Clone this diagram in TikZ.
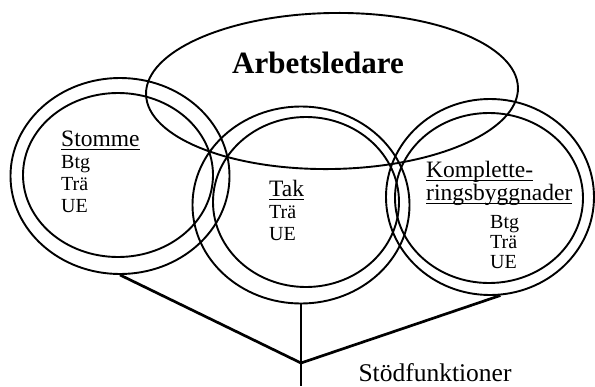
\documentclass[tikz,border=0pt]{standalone}
\usepackage{fontspec}
\setmainfont{Liberation Serif}
\usetikzlibrary{shapes.geometric}
\newcommand{\ulword}[1]{\setbox0\hbox{#1}\rlap{\rule[-3.5pt]{\wd0}{1.4pt}}\box0}
\newcommand{\titlefont}{\fontsize{23.5}{22}\selectfont}
\begin{document}
\begin{tikzpicture}[x=1pt,y=-1pt,
  ring/.style={ellipse,draw,line width=1.9pt,inner sep=0pt},
  bar/.style={line width=2.7pt},
  listtext/.style={anchor=north west,align=left,inner sep=0pt,font=\fontsize{20}{22}\selectfont}]
\useasboundingbox (0,0) rectangle (595,386);
\node[ring,minimum width=372pt,minimum height=156pt,rotate=1] (arb) at (332,91) {};
\node[ring,minimum width=219pt,minimum height=196pt] (stomme) at (120,176) {};
\node[ring,minimum width=190pt,minimum height=164pt] (stommein) at (118,175) {};
\node[ring,minimum width=217pt,minimum height=197pt] (tak) at (301,205) {};
\node[ring,minimum width=186pt,minimum height=170pt] (takin) at (306,202) {};
\node[ring,minimum width=208pt,minimum height=196pt] (komp) at (490,197) {};
\node[ring,minimum width=188pt,minimum height=170pt] (kompin) at (489,198) {};
\node[anchor=base,font=\bfseries\fontsize{31}{31}\selectfont] (arbtext) at (318,73) {Arbetsledare};
\node[listtext] (stommetext) at (61,131) {{\titlefont\ulword{Stomme}}\\Btg\\Trä\\UE};
\node[listtext] (taktext) at (269,180) {{\titlefont\ulword{Tak}}\\Trä\\UE};
\node[listtext,font=\fontsize{23.5}{23}\selectfont] (komptitle) at (426,161) {\ulword{Komplette-}\\\ulword{ringsbyggnader}};
\node[listtext,font=\fontsize{20}{20}\selectfont] (kompitems) at (490,215) {Btg\\Trä\\UE};
\node[anchor=base west,font=\fontsize{25.5}{26}\selectfont] (stod) at (355,381) {Stödfunktioner};
\coordinate (jn) at (301,363);
\coordinate (foot) at (301,386);
\draw[bar] (stomme.south) -- (jn) -- (komp.-84);
\draw[bar] (tak.south) -- (foot);
\end{tikzpicture}
\end{document}
